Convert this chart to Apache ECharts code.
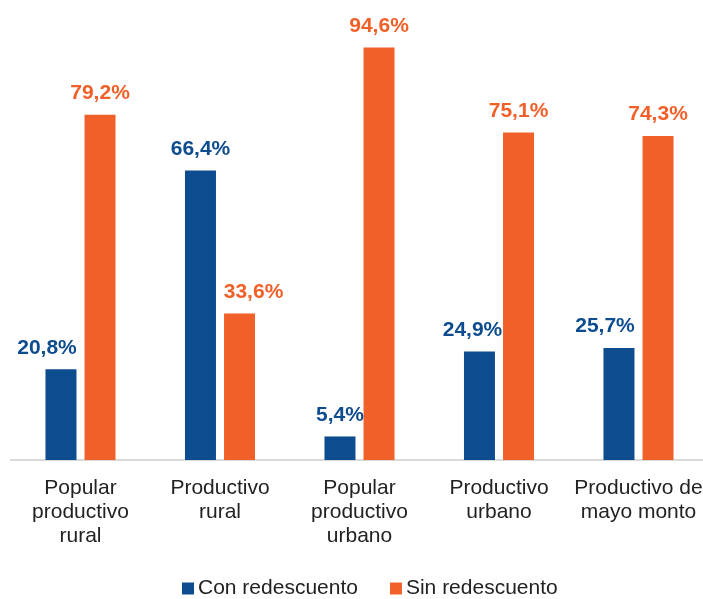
<!DOCTYPE html>
<html><head><meta charset="utf-8">
<script src="https://cdn.jsdelivr.net/npm/echarts@6/dist/echarts.min.js"></script>
<style>html,body{margin:0;padding:0;background:#fff;overflow:hidden}#c{width:710px;height:599px}</style>
</head><body><div id="c"></div>
<script>
const categories = ['Popular\nproductivo\nrural', 'Productivo\nrural', 'Popular\nproductivo\nurbano', 'Productivo\nurbano', 'Productivo de\nmayo monto'];
const conRedescuento = [20.8, 66.4, 5.4, 24.9, 25.7];
const sinRedescuento = [79.2, 33.6, 94.6, 75.1, 74.3];
const seriesNames = ['Con redescuento', 'Sin redescuento'];

const BLUE = '#0E4C90', ORANGE = '#F26029';
const fmt = p => p.value.toFixed(1).replace('.', ',') + '%';
// label nudges as in the reference (pixels)
const conNudge = [-14, 0, 0, -7, -14];
const sinNudge = [0, 14, 0, 0, 0];
const labelBase = {show: true, position: 'top', distance: 11, formatter: fmt, fontFamily: 'Liberation Sans', fontWeight: 'bold', fontSize: 21};
const mk = (vals, nudge) => vals.map((v, i) => ({value: v, label: {offset: [nudge[i], 0]}}));
const chart = echarts.init(document.getElementById('c'));
chart.setOption({
  animation: false,
  grid: {left: 10.75, width: 697.5, top: 24, height: 436, containLabel: false},
  legend: {
    bottom: -5, left: 177, itemWidth: 12, itemHeight: 12, itemGap: 32, icon: 'rect',
    textStyle: {fontFamily: 'Liberation Sans', fontSize: 21, color: '#222', padding: [0,0,0,-1]},
    data: seriesNames
  },
  xAxis: {
    type: 'category', data: categories,
    axisLine: {lineStyle: {color: '#d9d9d9', width: 2}},
    axisTick: {show: false},
    axisLabel: {fontFamily: 'Liberation Sans', fontSize: 21, color: '#222', lineHeight: 24, margin: 16, interval: 0}
  },
  yAxis: {type: 'value', min: 0, max: 100, show: false, splitLine: {show: false}},
  series: [
    {name: seriesNames[0], type: 'bar', data: mk(conRedescuento, conNudge), barWidth: 31, barGap: '26%',
     itemStyle: {color: BLUE},
     label: Object.assign({color: BLUE}, labelBase)},
    {name: seriesNames[1], type: 'bar', data: mk(sinRedescuento, sinNudge), barWidth: 31,
     itemStyle: {color: ORANGE},
     label: Object.assign({color: ORANGE}, labelBase)}
  ]
});
</script></body></html>
